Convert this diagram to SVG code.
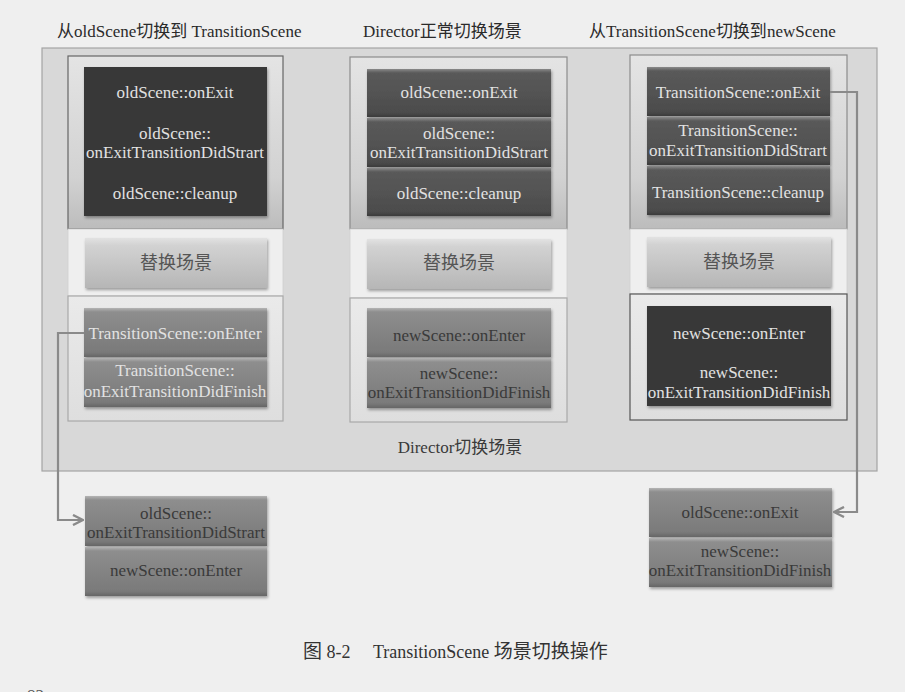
<svg xmlns="http://www.w3.org/2000/svg" width="905" height="692" viewBox="0 0 905 692">
<style>
text{font-family:'Liberation Serif','Times New Roman',serif;font-size:17px;text-anchor:middle}
.cjk{font-family:'Noto Sans CJK SC','Noto Sans CJK JP',sans-serif}
.title{font-size:17px;text-anchor:start;fill:#2a2a2a}
.lt{fill:#e2e2e2}
.dt{fill:#3a3a3a}
.btnt{fill:#555;font-size:18px}
.panel{stroke:#8c8c8c;stroke-width:1.2}
.conn{fill:none;stroke:#8a8a8a;stroke-width:2.2}
</style>
<defs>
<linearGradient id="gDark" x1="0" y1="0" x2="0" y2="1">
<stop offset="0" stop-color="#8a8a8a"/><stop offset="0.08" stop-color="#5a5a5a"/><stop offset="0.9" stop-color="#4c4c4c"/><stop offset="1" stop-color="#3c3c3c"/>
</linearGradient>
<linearGradient id="gMid" x1="0" y1="0" x2="0" y2="1">
<stop offset="0" stop-color="#b4b4b4"/><stop offset="0.08" stop-color="#8e8e8e"/><stop offset="0.9" stop-color="#7a7a7a"/><stop offset="1" stop-color="#666"/>
</linearGradient>
<linearGradient id="gBtn" x1="0" y1="0" x2="0" y2="1">
<stop offset="0" stop-color="#e2e2e2"/><stop offset="0.15" stop-color="#d2d2d2"/><stop offset="1" stop-color="#b6b6b6"/>
</linearGradient>
<linearGradient id="gTop" x1="0" y1="0" x2="0" y2="1">
<stop offset="0" stop-color="#e4e4e4"/><stop offset="0.7" stop-color="#d2d2d2"/><stop offset="1" stop-color="#bcbcbc"/>
</linearGradient>
<linearGradient id="gBot" x1="0" y1="0" x2="0" y2="1">
<stop offset="0" stop-color="#eaeaea"/><stop offset="1" stop-color="#dedede"/>
</linearGradient>
<filter id="sh" x="-5%" y="-5%" width="115%" height="120%">
<feDropShadow dx="1" dy="2" stdDeviation="1.5" flood-color="#000" flood-opacity="0.35"/>
</filter>
<marker id="arr" viewBox="0 0 12 12" refX="11" refY="6" markerWidth="12" markerHeight="12" markerUnits="userSpaceOnUse" orient="auto">
<path d="M1,1 L11,6 L1,11" fill="none" stroke="#8a8a8a" stroke-width="2.4"/>
</marker>
</defs>
<rect width="905" height="692" fill="#efefef"/>

<g id="titles">
<text class="title" x="57" y="37"><tspan class="cjk">从</tspan>oldScene<tspan class="cjk">切换到</tspan> TransitionScene</text>
<text class="title" x="363" y="37">Director<tspan class="cjk">正常切换场景</tspan></text>
<text class="title" x="589" y="37"><tspan class="cjk">从</tspan>TransitionScene<tspan class="cjk">切换到</tspan>newScene</text>
</g>

<g id="director">
<rect x="42" y="48" width="835" height="423" fill="#d8d8d8" stroke="#a4a4a4" stroke-width="1.2"/>
<text x="460" y="453" class="dt" style="font-size:17px">Director<tspan class="cjk">切换场景</tspan></text>
</g>

<g id="col-left">
<rect x="68" y="56" width="215" height="173" fill="url(#gTop)" stroke="#666" stroke-width="1.2"/>
<rect x="68" y="229" width="215" height="67" fill="#efefef" stroke="#d0d0d0" stroke-width="0.8"/>
<rect x="68" y="296" width="215" height="125" fill="url(#gBot)" stroke="#a8a8a8" stroke-width="1.2"/>
<rect x="84" y="67" width="183" height="149" fill="#373737" filter="url(#sh)"/>
<text x="175" y="98" class="lt">oldScene::onExit</text>
<text x="175" y="139" class="lt">oldScene::</text>
<text x="175" y="158" class="lt">onExitTransitionDidStrart</text>
<text x="175" y="199" class="lt">oldScene::cleanup</text>
<rect x="85" y="238" width="182" height="50" fill="url(#gBtn)" filter="url(#sh)"/>
<text x="176" y="269" class="btnt cjk">替换场景</text>
<rect x="84" y="308" width="183" height="49" fill="url(#gMid)" filter="url(#sh)"/>
<rect x="84" y="358" width="183" height="49" fill="url(#gMid)" filter="url(#sh)"/>
<text x="175" y="339" class="lt">TransitionScene::onEnter</text>
<text x="175" y="376" class="lt">TransitionScene::</text>
<text x="175" y="397" class="lt">onExitTransitionDidFinish</text>
</g>

<g id="col-mid">
<rect x="350" y="57" width="217" height="172" fill="url(#gTop)" class="panel"/>
<rect x="350" y="229" width="217" height="69" fill="#efefef" stroke="#d0d0d0" stroke-width="0.8"/>
<rect x="350" y="298" width="217" height="124" fill="url(#gBot)" stroke="#a8a8a8" stroke-width="1.2"/>
<rect x="367" y="69" width="184" height="48" fill="url(#gDark)" filter="url(#sh)"/>
<rect x="367" y="118" width="184" height="49" fill="url(#gDark)" filter="url(#sh)"/>
<rect x="367" y="168" width="184" height="48" fill="url(#gDark)" filter="url(#sh)"/>
<text x="459" y="98" class="lt">oldScene::onExit</text>
<text x="459" y="139" class="lt">oldScene::</text>
<text x="459" y="158" class="lt">onExitTransitionDidStrart</text>
<text x="459" y="199" class="lt">oldScene::cleanup</text>
<rect x="367" y="239" width="184" height="50" fill="url(#gBtn)" filter="url(#sh)"/>
<text x="459" y="269" class="btnt cjk">替换场景</text>
<rect x="367" y="308" width="184" height="49" fill="url(#gMid)" filter="url(#sh)"/>
<rect x="367" y="358" width="184" height="50" fill="url(#gMid)" filter="url(#sh)"/>
<text x="459" y="341" class="dt">newScene::onEnter</text>
<text x="459" y="379" class="dt">newScene::</text>
<text x="459" y="398" class="dt">onExitTransitionDidFinish</text>
</g>

<g id="col-right">
<rect x="630" y="55" width="217" height="174" fill="url(#gTop)" class="panel"/>
<rect x="630" y="229" width="217" height="65" fill="#efefef" stroke="#d0d0d0" stroke-width="0.8"/>
<rect x="630" y="294" width="217" height="126" fill="url(#gBot)" stroke="#555" stroke-width="1.2"/>
<rect x="647" y="67" width="183" height="49" fill="url(#gDark)" filter="url(#sh)"/>
<rect x="647" y="117" width="183" height="48" fill="url(#gDark)" filter="url(#sh)"/>
<rect x="647" y="166" width="183" height="49" fill="url(#gDark)" filter="url(#sh)"/>
<text x="738" y="98" class="lt">TransitionScene::onExit</text>
<text x="738" y="136" class="lt">TransitionScene::</text>
<text x="738" y="156" class="lt">onExitTransitionDidStrart</text>
<text x="738" y="198" class="lt">TransitionScene::cleanup</text>
<rect x="647" y="237" width="184" height="50" fill="url(#gBtn)" filter="url(#sh)"/>
<text x="739" y="268" class="btnt cjk">替换场景</text>
<rect x="647" y="306" width="184" height="100" fill="#383838" filter="url(#sh)"/>
<text x="739" y="339" class="lt">newScene::onEnter</text>
<text x="739" y="378" class="lt">newScene::</text>
<text x="739" y="398" class="lt">onExitTransitionDidFinish</text>
</g>

<g id="box-lower-left">
<rect x="85" y="496" width="182" height="50" fill="url(#gMid)" filter="url(#sh)"/>
<rect x="85" y="547" width="182" height="49" fill="url(#gMid)" filter="url(#sh)"/>
<text x="176" y="519" class="dt">oldScene::</text>
<text x="176" y="538" class="dt">onExitTransitionDidStrart</text>
<text x="176" y="576" class="dt">newScene::onEnter</text>
</g>

<g id="box-lower-right">
<rect x="649" y="488" width="183" height="49" fill="url(#gMid)" filter="url(#sh)"/>
<rect x="649" y="538" width="183" height="49" fill="url(#gMid)" filter="url(#sh)"/>
<text x="740" y="518" class="dt">oldScene::onExit</text>
<text x="740" y="557" class="dt">newScene::</text>
<text x="740" y="576" class="dt">onExitTransitionDidFinish</text>
</g>

<g id="connectors">
<path class="conn" d="M84,333 H58 V520 H83" marker-end="url(#arr)"/>
<path class="conn" d="M830,92 H857 V512 H834" marker-end="url(#arr)"/>
</g>

<g id="caption">
<text x="303" y="658" style="text-anchor:start;font-size:18px;fill:#333"><tspan class="cjk" style="font-size:19px">图</tspan> 8-2<tspan x="373">TransitionScene </tspan><tspan class="cjk" style="font-size:19px">场景切换操作</tspan></text>
<text x="27" y="701" style="text-anchor:start;font-size:17px;fill:#555">82</text>
</g>
</svg>
